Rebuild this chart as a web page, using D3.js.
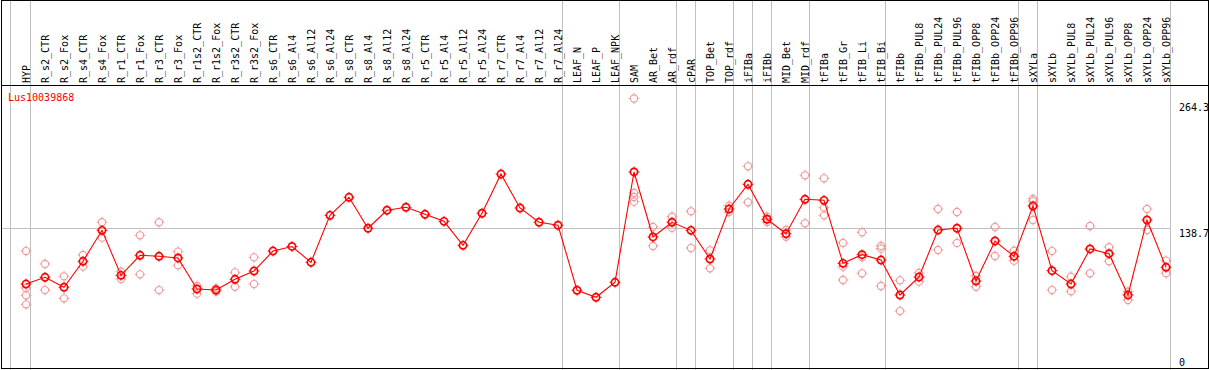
<!DOCTYPE html>
<html><head><meta charset="utf-8">
<script src="https://cdn.jsdelivr.net/npm/d3@7/dist/d3.min.js"></script>
<style>
html,body{margin:0;padding:0;background:#fff;}
svg{display:block;}
text{font-family:"DejaVu Sans Mono",monospace;font-size:10px;}
</style></head>
<body><div id="chart"></div>
<script>
const geneName = "Lus10039868";
const categories = ["HYP","R_s2_CTR","R_s2_Fox","R_s4_CTR","R_s4_Fox","R_r1_CTR","R_r1_Fox","R_r3_CTR","R_r3_Fox","R_r1s2_CTR","R_r1s2_Fox","R_r3s2_CTR","R_r3s2_Fox","R_s6_CTR","R_s6_Al4","R_s6_Al12","R_s6_Al24","R_s8_CTR","R_s8_Al4","R_s8_Al12","R_s8_Al24","R_r5_CTR","R_r5_Al4","R_r5_Al12","R_r5_Al24","R_r7_CTR","R_r7_Al4","R_r7_Al12","R_r7_Al24","LEAF_N","LEAF_P","LEAF_NPK","SAM","AR_Bet","AR_rdf","cPAR","TOP_Bet","TOP_rdf","iFIBa","iFIBb","MID_Bet","MID_rdf","tFIBa","tFIB_Gr","tFIB_Li","tFIB_Bi","tFIBb","tFIBb_PUL8","tFIBb_PUL24","tFIBb_PUL96","tFIBb_OPP8","tFIBb_OPP24","tFIBb_OPP96","sXYLa","sXYLb","sXYLb_PUL8","sXYLb_PUL24","sXYLb_PUL96","sXYLb_OPP8","sXYLb_OPP24","sXYLb_OPP96"];
const means = [85.0,91.5,81.9,107.0,136.9,93.4,112.8,111.8,110.2,80.2,79.2,89.6,97.6,116.9,121.3,106.0,151.4,168.8,138.9,156.3,159.2,152.4,145.6,122.4,153.4,191.3,158.5,144.7,141.8,79.0,72.2,86.7,193.3,130.5,144.7,136.9,109.2,157.5,181.4,147.6,133.6,166.9,165.9,105.0,113.4,108.2,74.4,91.8,137.2,138.9,87.9,126.6,111.8,160.4,97.9,85.0,118.9,114.3,74.4,146.9,101.2];
const replicates = [
 [116.9,81.2,74.1,65.4],[104.4,79.2],[92.5,71.2],[113.1,101.8],[144.7,129.8],[96.9,89.9],[132.1,94.4],[144.7,79.2],[116.3,103.1],[83.1,75.7],[80.7,77.8],[96.3,82.4],[110.8,85.0],
 [],[],[],[],[],[],[],[],[],[],[],[],[],[],[],[],[],[],[],
 [264.3,173.0,169.1,164.6],[140.1,121.8],[150.1,139.4],[155.3,119.8],[117.6,100.2],[160.7,154.6],[198.8,164.0],[150.1,145.0],[137.2,130.7],[190.1,143.7],
 [187.2,158.8,151.4],[124.7,101.8,88.9],[135.0,110.8,95.4],[121.8,119.2,83.1],[88.6,58.9],[95.7,87.3],[157.5,117.9],[154.6,124.7],[92.8,82.4],[140.1,112.1],[117.2,107.6],
 [167.2,165.2,146.9],[116.9,79.2],[92.1,78.0],[141.1,95.4],[120.6,107.0],[77.6,69.6],[157.5,137.2],[107.6,95.4]
];
const yTickLabels = ["264.3","138.7","0"];
const refValue = 138.7;
const dividerAfter = ["HYP","R_r7_Al24","LEAF_NPK","AR_rdf","cPAR","TOP_rdf","iFIBa","iFIBb","MID_rdf","tFIB_Bi","tFIBb_OPP96","sXYLa","sXYLb_OPP96"];

const W = 1209, H = 370;
const frame = {left:1.5, top:0.5, right:1208.5, bottom:368.5, header:85.5};

const svg = d3.select("#chart").append("svg").attr("width",W).attr("height",H);

const x = d3.scalePoint().domain(categories).range([26, 1166]);
const y = d3.scaleLinear().domain([0, 264.3]).range([372, 98.5]);
const step = x.step();

// gray vertical dividers
const g0 = svg.append("g").attr("stroke","#c0c0c0").attr("stroke-width",1).attr("shape-rendering","crispEdges");
g0.append("line").attr("x1", x(categories[0]) - 15.5).attr("x2", x(categories[0]) - 15.5).attr("y1",0).attr("y2",H);
dividerAfter.forEach(c => {
  const xx = Math.round(x(c) + 4) + 0.5;
  g0.append("line").attr("x1",xx).attr("x2",xx).attr("y1",0).attr("y2",H);
});
// reference horizontal line
const lastDiv = Math.round(x(dividerAfter[dividerAfter.length-1]) + 4) + 0.5;
g0.append("line").attr("x1",frame.left).attr("x2",lastDiv)
  .attr("y1",Math.round(y(refValue))+0.5).attr("y2",Math.round(y(refValue))+0.5);

// frame
const gf = svg.append("g").attr("stroke","#000").attr("stroke-width",1.2).attr("fill","none").attr("shape-rendering","crispEdges");
gf.append("rect").attr("x",frame.left).attr("y",frame.top).attr("width",frame.right-frame.left).attr("height",frame.bottom-frame.top);
gf.append("line").attr("x1",frame.left).attr("x2",frame.right).attr("y1",frame.header).attr("y2",frame.header);

// category labels
svg.append("g").selectAll("text").data(categories).join("text")
  .attr("transform", d => `translate(${x(d)+4},83) rotate(-90)`)
  .attr("text-anchor","start").attr("fill","#000").text(d => d);

// gene name
svg.append("text").attr("x",8).attr("y",101).attr("fill","#ff0000").text(geneName);

// y labels
const labelY = [frame.header + 25, y(refValue) + 9, frame.bottom - 2.5];
svg.append("g").selectAll("text").data(yTickLabels).join("text")
  .attr("x",1179).attr("y",(d,i)=>labelY[i]).attr("fill","#000").text(d=>d);

function marker(g, cx, cy, color, sw) {
  const r = 3.6;
  g.append("circle").attr("cx",cx).attr("cy",cy).attr("r",r).attr("fill","none").attr("stroke",color).attr("stroke-width",sw);
  [[0,-1],[0,1],[-1,0],[1,0]].forEach(([dx,dy]) => {
    g.append("line").attr("x1",cx+dx*(r)).attr("y1",cy+dy*(r)).attr("x2",cx+dx*(r+1.8)).attr("y2",cy+dy*(r+1.8))
      .attr("stroke",color).attr("stroke-width",1);
  });
}

// replicates
const gr = svg.append("g");
replicates.forEach((reps,i) => {
  reps.forEach(v => marker(gr, x(categories[i]), y(v), "#f09a9a", 1.1));
});

// mean line
svg.append("path").datum(means)
  .attr("fill","none").attr("stroke","#ff0000").attr("stroke-width",1.1)
  .attr("d", d3.line().x((d,i)=>x(categories[i])).y(d=>y(d)));

const gm = svg.append("g");
means.forEach((v,i) => marker(gm, x(categories[i]), y(v), "#ff0000", 1.7));
</script></body></html>
